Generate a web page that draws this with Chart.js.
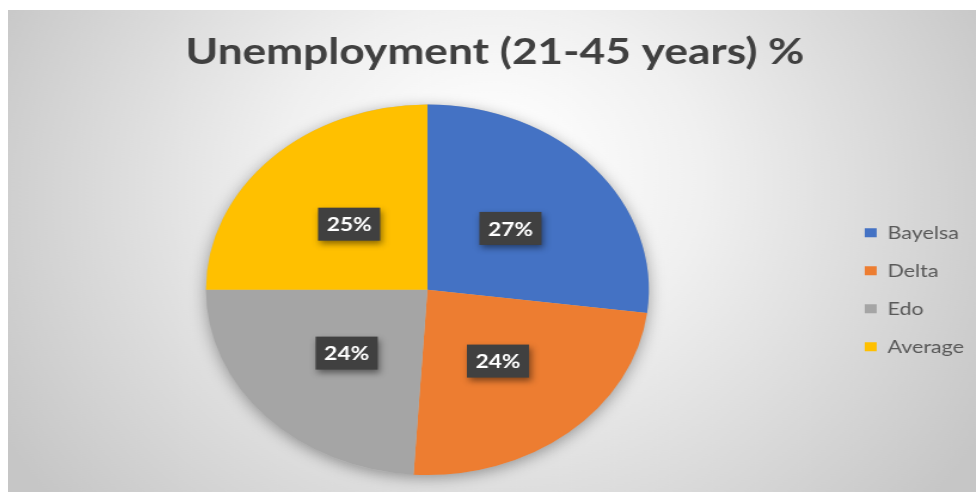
<!DOCTYPE html>
<html>
<head>
<meta charset="utf-8">
<script src="https://cdn.jsdelivr.net/npm/chart.js@4.4.1/dist/chart.umd.min.js"></script>
<style>
  html, body { margin: 0; padding: 0; background: #ffffff; }
  #wrap { position: absolute; left: 8px; top: 10px; width: 968px; height: 482px; overflow: hidden; }
  #unemploymentChart { position: absolute; left: 0; top: 0; transform: scaleX(1.195); transform-origin: 0 0; }
</style>
</head>
<body>
<div id="wrap">
  <canvas id="unemploymentChart" width="810" height="482"></canvas>
</div>
<script>
// Data från diagrammet
const chartTitle = 'Unemployment (21-45 years) %';
const states = ['Bayelsa', 'Delta', 'Edo', 'Average'];
const unemployment = [27, 24, 24, 25];
const sliceColors = ['#4472C4', '#ED7D31', '#A5A5A5', '#FFC000'];

// Bakgrund med radiell gradient
const backgroundPlugin = {
    id: 'bgGradient',
    beforeDraw(chart) {
        const { ctx, width, height } = chart;
        const g = ctx.createRadialGradient(405, 150, 20, 405, 200, 470);
        g.addColorStop(0, '#ffffff');
        g.addColorStop(0.35, '#f0f0f0');
        g.addColorStop(1, '#c6c6c6');
        ctx.save();
        ctx.fillStyle = g;
        ctx.fillRect(0, 0, width, height);
        ctx.restore();
    }
};

// Skugga under pajen
const pieShadow = {
    id: 'pieShadow',
    beforeDatasetsDraw(chart) {
        const arc = chart.getDatasetMeta(0).data[0];
        if (!arc) return;
        const { ctx } = chart;
        ctx.save();
        ctx.shadowColor = 'rgba(0,0,0,0.35)';
        ctx.shadowBlur = 14;
        ctx.shadowOffsetY = 3;
        ctx.fillStyle = '#bbbbbb';
        ctx.beginPath();
        ctx.arc(arc.x, arc.y, arc.outerRadius, 0, Math.PI * 2);
        ctx.fill();
        ctx.restore();
    }
};

// Etiketter i mörka rutor
const boxLabels = {
    id: 'boxLabels',
    afterDatasetsDraw(chart) {
        const { ctx } = chart;
        const meta = chart.getDatasetMeta(0);
        meta.data.forEach((arc, i) => {
            const { x, y } = arc.getCenterPoint();
            const w = 52, h = 33;
            ctx.save();
            ctx.shadowColor = 'rgba(0,0,0,0.45)';
            ctx.shadowBlur = 6;
            ctx.shadowOffsetX = 2;
            ctx.shadowOffsetY = 3;
            ctx.fillStyle = '#404040';
            ctx.fillRect(x - w / 2, y - h / 2, w, h);
            ctx.restore();
            ctx.save();
            ctx.fillStyle = '#ffffff';
            ctx.font = 'bold 19px Lato';
            ctx.textAlign = 'center';
            ctx.textBaseline = 'middle';
            ctx.fillText(unemployment[i] + '%', x, y + 1);
            ctx.restore();
        });
    }
};

const ctx = document.getElementById('unemploymentChart').getContext('2d');
const chart = new Chart(ctx, {
    type: 'pie',
    data: {
        labels: states,
        datasets: [{
            data: unemployment,
            backgroundColor: sliceColors,
            borderWidth: 0
        }]
    },
    options: {
        responsive: false,
        animation: false,
        layout: {
            padding: { left: 5, right: 0, top: 0, bottom: 17 }
        },
        plugins: {
            title: {
                display: true,
                text: chartTitle,
                color: '#404040',
                font: { family: 'Lato', size: 37, weight: 'bold' },
                padding: { top: 20, bottom: 30 }
            },
            legend: {
                position: 'right',
                fullSize: false,
                labels: {
                    boxWidth: 10,
                    boxHeight: 9,
                    padding: 20,
                    color: '#595959',
                    font: { family: 'Lato', size: 18 }
                }
            },
            tooltip: { enabled: false }
        }
    },
    plugins: [backgroundPlugin, pieShadow, boxLabels]
});
</script>
</body>
</html>
